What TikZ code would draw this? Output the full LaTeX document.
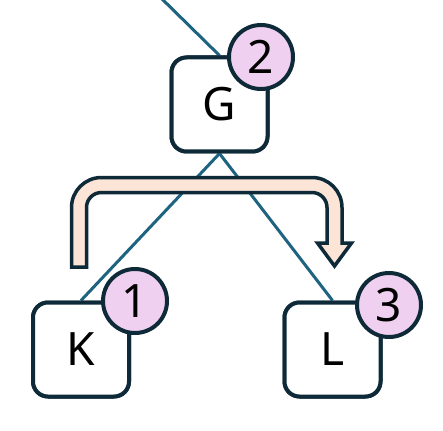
\documentclass[tikz,border=0pt]{standalone}
\usepackage{fontspec}
\setmainfont{Noto Sans}
\definecolor{ink}{HTML}{0E2A38}
\definecolor{edgeblue}{HTML}{1E6380}
\definecolor{badgefill}{HTML}{F0D0F0}
\definecolor{arrowfill}{HTML}{FCE4D6}
\tikzset{
  treenode/.style={draw=ink, line width=4pt, fill=white, rounded corners=15pt,
    minimum width=96pt, minimum height=94pt, inner sep=0pt,
    font=\fontsize{46}{46}\selectfont},
  badge/.style={circle, draw=ink, line width=4pt, fill=badgefill,
    minimum size=64pt, inner sep=0pt, font=\fontsize{46}{46}\selectfont},
  treeedge/.style={draw=edgeblue, line width=3pt},
  turnarrow/.style={draw=ink, fill=arrowfill, line width=3.5pt, line join=miter}
}
\begin{document}
\begin{tikzpicture}[x=1pt, y=-1pt]
  \useasboundingbox (0,0) rectangle (443,430);
  \clip (0,0) rectangle (443,430);
  \fill[white] (0,0) rectangle (443,430);

  % tree edges
  \coordinate (up) at (160,-3);
  \node[treenode] (G) at (219.5,104.5) {G};
  \node[treenode] (K) at (81,349.5) {K};
  \node[treenode] (L) at (332.5,349.5) {L};
  \draw[treeedge] (up) -- (G.north);
  \draw[treeedge] (G.south) -- (K.north);
  \draw[treeedge] (G.south) -- (L.north);
  % redraw nodes above the edges
  \node[treenode] at (G) {G};
  \node[treenode] at (K) {K};
  \node[treenode] at (L) {L};

  % traversal arrow from left to right
  \draw[turnarrow]
    (71.5,267) -- (71.5,207.5) arc (180:270:30) -- (312,177.5)
    arc (270:360:30) -- (342,243) -- (351.5,243) -- (334.5,266)
    -- (317.5,243) -- (327,243) -- (327,207.5) arc (0:-90:15)
    -- (101.5,192.5) arc (270:180:15) -- (86.5,267) -- cycle;

  % order badges
  \node[badge] (b2) at (261,57) {2};
  \node[badge] (b1) at (135,301) {1};
  \node[badge] (b3) at (389,305) {3};
\end{tikzpicture}
\end{document}
